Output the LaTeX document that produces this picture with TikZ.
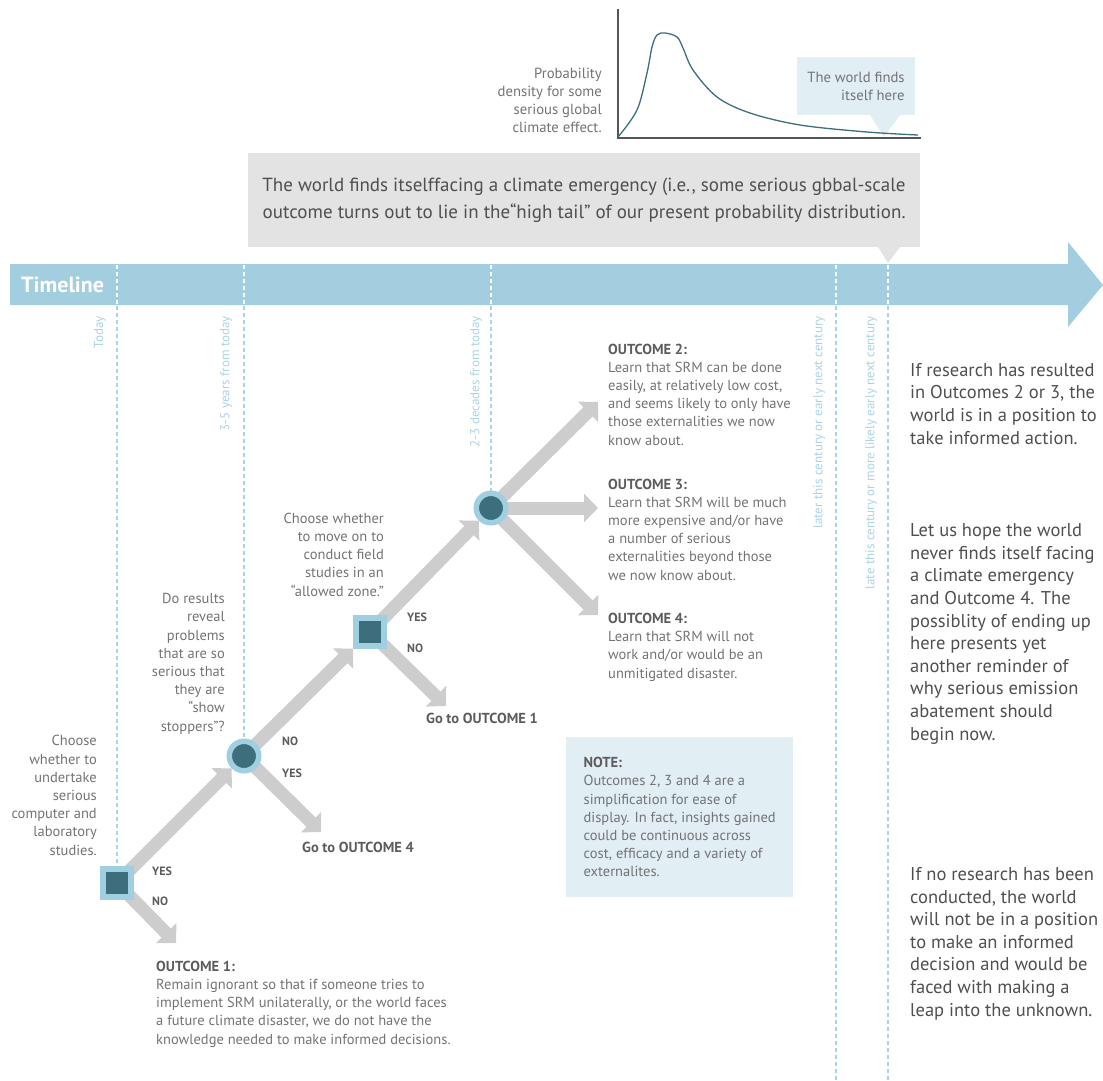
\documentclass[tikz,border=0pt]{standalone}
\usepackage{fontspec}
\setmainfont{PT Sans}
\usepackage{tikz}
\usetikzlibrary{arrows.meta, positioning, backgrounds}

\definecolor{bandblue}{HTML}{A3CEDF}
\definecolor{ringblue}{HTML}{9FCFE1}
\definecolor{deepteal}{HTML}{3C6E7B}
\definecolor{arrowgray}{HTML}{CDCDCD}
\definecolor{bannergray}{HTML}{E3E3E3}
\definecolor{notefill}{HTML}{E1EEF4}
\definecolor{bodygray}{HTML}{737373}
\definecolor{headgray}{HTML}{5C5C5C}
\definecolor{darktext}{HTML}{4F4F4F}
\definecolor{stampblue}{HTML}{A9D4E4}
\definecolor{axisgray}{HTML}{555555}

\newcommand{\outhead}[1]{{\bfseries\color{headgray}#1}}

\begin{document}
\begin{tikzpicture}[x=1pt, y=-1pt,
	flow/.style={draw=arrowgray, line width=13pt, -{Triangle[length=14pt, width=28pt]}},
	decsquare/.style={rectangle, fill=deepteal, draw=ringblue, line width=6pt, minimum size=28pt, inner sep=0pt},
	deccircle/.style={circle, fill=deepteal, draw=ringblue, line width=5.5pt, minimum size=29.5pt, inner sep=0pt},
	body/.style={inner sep=0pt, text=bodygray, font=\fontsize{14.5}{18.2}\selectfont},
	aside/.style={inner sep=0pt, text=darktext, font=\fontsize{18.5}{22.6}\selectfont, anchor=base west, align=left},
	answer/.style={inner sep=0pt, anchor=west, text=headgray, font=\bfseries\fontsize{12}{14}\selectfont},
	golabel/.style={inner sep=0pt, anchor=west, text=headgray, font=\bfseries\fontsize{14.5}{16}\selectfont},
	stamp/.style={inner sep=0pt, rotate=90, anchor=east, text=stampblue, font=\fontsize{13}{15}\selectfont},
	bandtick/.style={draw=white, line width=1.3pt, dash pattern=on 4pt off 3pt},
	droptick/.style={draw=stampblue, line width=1.3pt, dash pattern=on 4pt off 3pt}]
	\useasboundingbox (0,0) rectangle (1103,1080);

	% probability sketch
	\node[fill=notefill, minimum width=118pt, minimum height=58pt, inner sep=0pt, align=right, text=bodygray, font=\fontsize{14.7}{18}\selectfont] (here) at (856,86) {The world finds\\itself here};
	\fill[notefill] (870,115) -- (900,115) -- (884,137) -- cycle;
	\draw[axisgray, line width=1.2pt] (618,9) -- (618,138) -- (921,138);
	\draw[deepteal, line width=1.3pt] plot[smooth, tension=0.55] coordinates {(618,137) (637,110) (647,73) (652,47) (657,35) (665,33) (677,37) (683,48) (693,70) (717,97) (750,113) (800,125) (867,132) (918,135)};
	\node[body, font=\fontsize{14.7}{18}\selectfont, anchor=base east, align=right] (density) at (602,132) {Probability\\density for some\\serious global\\climate effect.};

	% emergency banner
	\node[fill=bannergray, minimum width=672pt, minimum height=94pt, inner sep=0pt, align=right, text=darktext, font=\fontsize{19}{27}\selectfont] (emergency) at (584,200) {The world finds itselffacing a climate emergency (i.e., some serious gbbal-scale\\outcome turns out to lie in the“high tail” of our present probability distribution.};
	\fill[bannergray] (878,247) -- (900,247) -- (888,263) -- cycle;

	% timeline band
	\fill[bandblue] (10,264) -- (1068,264) -- (1068,242) -- (1103,285) -- (1068,327) -- (1068,305) -- (10,305) -- cycle;
	\node[inner sep=0pt, anchor=west, text=white, font=\bfseries\fontsize{22}{24}\selectfont] (timeline) at (21,285) {Timeline};
	\foreach \x in {117,244,491,836,888}
		\draw[bandtick] (\x,265) -- (\x,304);

	\node[stamp] (today) at (100,316) {Today};
	\node[stamp] (years) at (226,316) {3-5 years from today};
	\node[stamp] (decades) at (476,316) {2-3 decades from today};
	\node[stamp] (later) at (819,316) {later this century or early next century};
	\node[stamp] (late) at (871,316) {late this century or more likely early next century};

	% decision points
	\node[decsquare] (sq1) at (117,883) {};
	\node[deccircle] (c1) at (244,756) {};
	\node[decsquare] (sq2) at (370,632) {};
	\node[deccircle] (c2) at (491,508) {};

	\coordinate (out1 tip) at (176,943);
	\coordinate (go4 tip) at (321,832);
	\coordinate (go1 tip) at (446,706);
	\coordinate (out2 tip) at (598,402);
	\coordinate (out3 tip) at (598,508);
	\coordinate (out4 tip) at (598,615);
	\coordinate (later end) at (836,1080);
	\coordinate (late end) at (888,1080);

	\draw[droptick] (117,306) -- (sq1.north);
	\draw[droptick] (244,306) -- (c1.north);
	\draw[droptick] (491,306) -- (c2.north);
	\draw[droptick] (836,306) -- (later end);
	\draw[droptick] (888,306) -- (late end);

	\begin{scope}[on background layer]
		\draw[flow] (sq1.center) -- (c1);
		\draw[flow] (sq1.center) -- (out1 tip);
		\draw[flow] (c1.center) -- (sq2);
		\draw[flow] (c1.center) -- (go4 tip);
		\draw[flow] (sq2.center) -- (c2);
		\draw[flow] (sq2.center) -- (go1 tip);
		\draw[flow] (c2.center) -- (out2 tip);
		\draw[flow] (c2.center) -- (out3 tip);
		\draw[flow] (c2.center) -- (out4 tip);
	\end{scope}

	\node[answer] (yes1) at (152,871) {YES};
	\node[answer] (no1) at (152,901) {NO};
	\node[answer] (no2) at (282,741) {NO};
	\node[answer] (yes2) at (282,773) {YES};
	\node[answer] (yes3) at (407,617) {YES};
	\node[answer] (no3) at (407,648) {NO};

	\node[golabel] (go4) at (302,847) {Go to OUTCOME 4};
	\node[golabel] (go1) at (426,718) {Go to OUTCOME 1};

	% questions
	\node[body, anchor=base east, align=right] (ask1) at (97,855) {Choose\\whether to\\undertake\\serious\\computer and\\laboratory\\studies.};
	\node[body, anchor=base east, align=right] (ask2) at (225,731) {Do results\\reveal\\problems\\that are so\\serious that\\they are\\“show\\stoppers”?};
	\node[body, anchor=base east, align=right] (ask3) at (384,596) {Choose whether\\to move on to\\conduct field\\studies in an\\“allowed zone.”};

	% outcomes
	\node[body, anchor=base west, align=left] (out1) at (156,1044) {\outhead{OUTCOME 1:}\\Remain ignorant so that if someone tries to\\implement SRM unilaterally, or the world faces\\a future climate disaster, we do not have the\\knowledge needed to make informed decisions.};
	\node[body, anchor=base west, align=left] (out2) at (608,445) {\outhead{OUTCOME 2:}\\Learn that SRM can be done\\easily, at relatively low cost,\\and seems likely to only have\\those externalities we now\\know about.};
	\node[body, anchor=base west, align=left] (out3) at (608,580) {\outhead{OUTCOME 3:}\\Learn that SRM will be much\\more expensive and/or have\\a number of serious\\externalities beyond those\\we now know about.};
	\node[body, anchor=base west, align=left] (out4) at (608,678) {\outhead{OUTCOME 4:}\\Learn that SRM will not\\work and/or would be an\\unmitigated disaster.};

	\node[body, fill=notefill, anchor=north west, align=left, minimum width=227pt, minimum height=160pt] (note) at (566,737) {\outhead{NOTE:}\\Outcomes 2, 3 and 4 are a\\simplification for ease of\\display. In fact, insights gained\\could be continuous across\\cost, efficacy and a variety of\\externalites.};

	% right hand remarks
	\node[aside] (informed) at (910,444) {If research has resulted\\in Outcomes 2 or 3, the\\world is in a position to\\take informed action.};
	\node[aside] (hope) at (910,740) {Let us hope the world\\never finds itself facing\\a climate emergency\\and Outcome 4. The\\possiblity of ending up\\here presents yet\\another reminder of\\why serious emission\\abatement should\\begin now.};
	\node[aside] (unknown) at (910,1016) {If no research has been\\conducted, the world\\will not be in a position\\to make an informed\\decision and would be\\faced with making a\\leap into the unknown.};
\end{tikzpicture}
\end{document}
